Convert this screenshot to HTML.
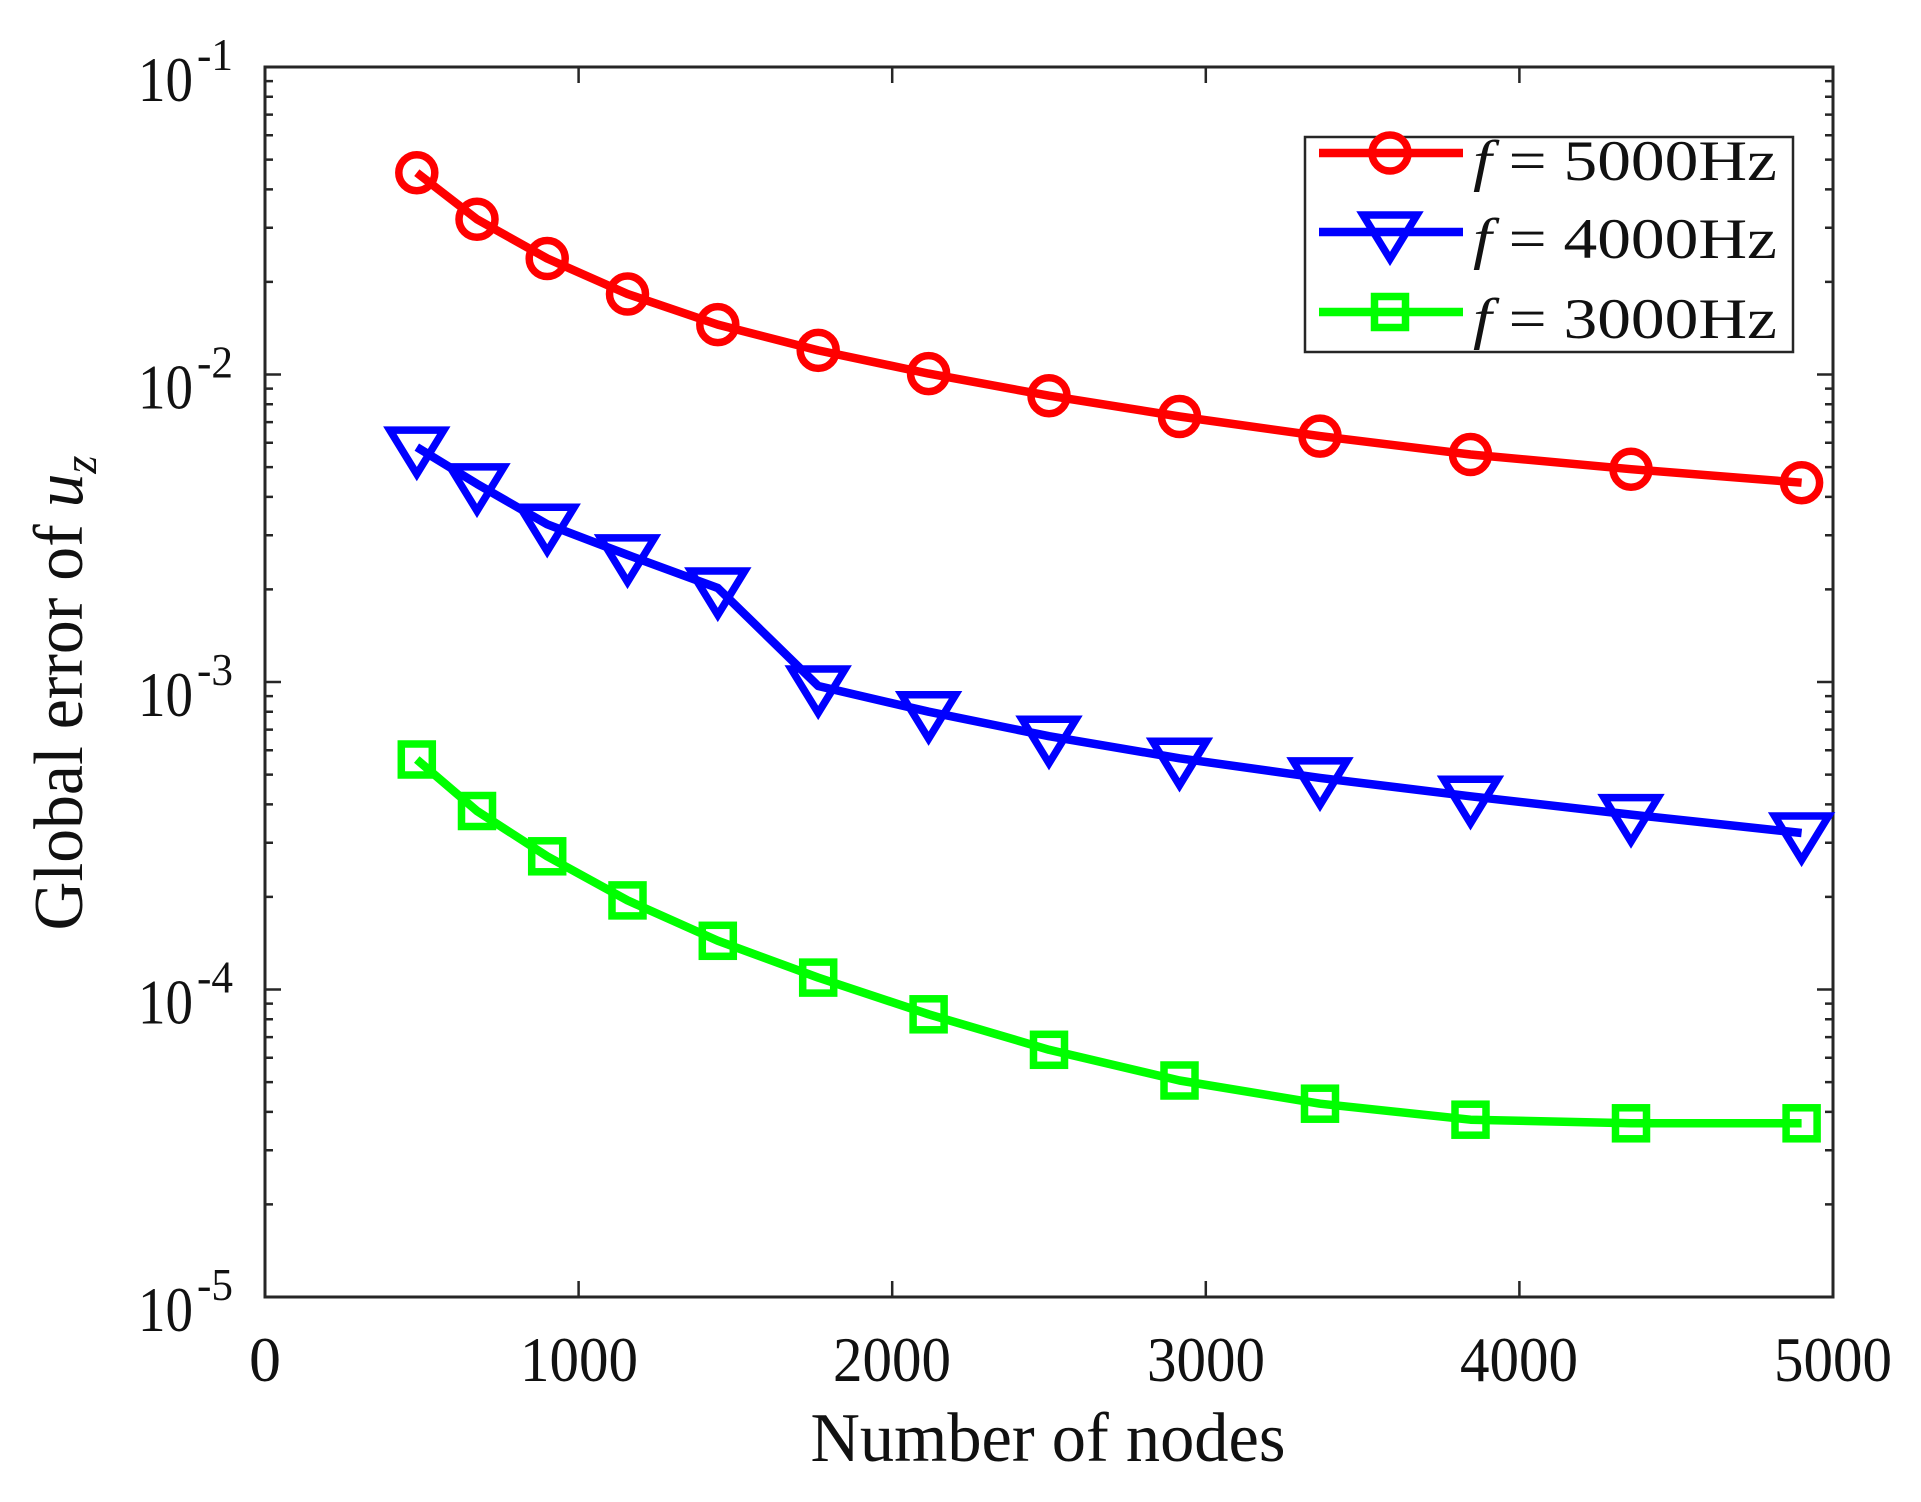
<!DOCTYPE html>
<html><head><meta charset="utf-8"><style>html,body{margin:0;padding:0;background:#fff}svg{display:block}</style></head>
<body>
<svg width="1921" height="1502" viewBox="0 0 1921 1502" xmlns="http://www.w3.org/2000/svg" font-family="'Liberation Serif', serif">
<defs>
<marker id="mc" markerUnits="userSpaceOnUse" markerWidth="60" markerHeight="60" refX="30" refY="30" overflow="visible"><circle cx="30" cy="30" r="18" fill="none" stroke="#ff0000" stroke-width="7.5"/></marker>
<marker id="mt" markerUnits="userSpaceOnUse" markerWidth="70" markerHeight="70" refX="35" refY="35" overflow="visible"><polygon points="8,18 62,18 35,62" fill="none" stroke="#0000ff" stroke-width="7.5"/></marker>
<marker id="ms" markerUnits="userSpaceOnUse" markerWidth="60" markerHeight="60" refX="30" refY="30" overflow="visible"><rect x="14.5" y="14.5" width="31" height="31" fill="none" stroke="#00ff00" stroke-width="7.5"/></marker>
</defs>
<rect width="1921" height="1502" fill="#fff"/>
<g stroke="#262626" stroke-width="2.5" fill="none">
<path d="M265 374.5h16M265 682h16M265 989.5h16M1833 374.5h-16M1833 682h-16M1833 989.5h-16
M578.6 1297v-16M892.2 1297v-16M1205.8 1297v-16M1519.4 1297v-16
M578.6 67v16M892.2 67v16M1205.8 67v16M1519.4 67v16"/>
<path d="M265 281.9h8M265 227.8h8M265 189.4h8M265 159.6h8M265 135.2h8M265 114.6h8M265 96.8h8M265 81.1h8
M265 589.4h8M265 535.3h8M265 496.9h8M265 467.1h8M265 442.7h8M265 422.1h8M265 404.3h8M265 388.6h8
M265 896.9h8M265 842.8h8M265 804.4h8M265 774.6h8M265 750.2h8M265 729.6h8M265 711.8h8M265 696.1h8
M265 1204.4h8M265 1150.3h8M265 1111.9h8M265 1082.1h8M265 1057.7h8M265 1037.1h8M265 1019.3h8M265 1003.6h8
M1833 281.9h-8M1833 227.8h-8M1833 189.4h-8M1833 159.6h-8M1833 135.2h-8M1833 114.6h-8M1833 96.8h-8M1833 81.1h-8
M1833 589.4h-8M1833 535.3h-8M1833 496.9h-8M1833 467.1h-8M1833 442.7h-8M1833 422.1h-8M1833 404.3h-8M1833 388.6h-8
M1833 896.9h-8M1833 842.8h-8M1833 804.4h-8M1833 774.6h-8M1833 750.2h-8M1833 729.6h-8M1833 711.8h-8M1833 696.1h-8
M1833 1204.4h-8M1833 1150.3h-8M1833 1111.9h-8M1833 1082.1h-8M1833 1057.7h-8M1833 1037.1h-8M1833 1019.3h-8M1833 1003.6h-8"/>
</g>
<rect x="265" y="67" width="1568" height="1230" fill="none" stroke="#262626" stroke-width="3"/>

<polyline fill="none" stroke="#00ff00" stroke-width="8.5" stroke-linejoin="round" marker-start="url(#ms)" marker-mid="url(#ms)" marker-end="url(#ms)"
points="416.8,759.5 477,811 547.2,856.3 627.5,900.4 717.8,940.8 818.2,977.6 928.6,1014.3 1049,1049.8 1179.5,1080.5 1320,1103.7 1470.5,1119.7 1631,1123.3 1801.6,1123.3"/>
<polyline fill="none" stroke="#0000ff" stroke-width="8.5" stroke-linejoin="round" marker-start="url(#mt)" marker-mid="url(#mt)" marker-end="url(#mt)"
points="416.8,447.1 477,483.9 547.2,524.3 627.5,554.9 717.8,588 818.2,686 928.6,711.7 1049,736.2 1179.5,758.3 1320,777.9 1470.5,796.3 1631,814.6 1801.6,833"/>
<polyline fill="none" stroke="#ff0000" stroke-width="8.5" stroke-linejoin="round" marker-start="url(#mc)" marker-mid="url(#mc)" marker-end="url(#mc)"
points="416.8,172.7 477,219.3 547.2,258.5 627.5,294 717.8,324.6 818.2,350.4 928.6,373.6 1049,395.7 1179.5,416.5 1320,436.1 1470.5,454.5 1631,469.2 1801.6,482.7"/>

<g fill="#111" font-size="64">
<text x="265" y="1381" text-anchor="middle">0</text>
<text x="579" y="1381" text-anchor="middle" textLength="118" lengthAdjust="spacingAndGlyphs">1000</text>
<text x="892" y="1381" text-anchor="middle" textLength="118" lengthAdjust="spacingAndGlyphs">2000</text>
<text x="1206" y="1381" text-anchor="middle" textLength="118" lengthAdjust="spacingAndGlyphs">3000</text>
<text x="1519" y="1381" text-anchor="middle" textLength="118" lengthAdjust="spacingAndGlyphs">4000</text>
<text x="1833" y="1381" text-anchor="middle" textLength="118" lengthAdjust="spacingAndGlyphs">5000</text>
</g>
<g fill="#111">
<text x="138" y="101" font-size="64" textLength="55" lengthAdjust="spacingAndGlyphs">10</text>
<text x="197" y="70" font-size="46" textLength="36" lengthAdjust="spacingAndGlyphs">-1</text>
<text x="138" y="408.5" font-size="64" textLength="55" lengthAdjust="spacingAndGlyphs">10</text>
<text x="197" y="377.5" font-size="46" textLength="36" lengthAdjust="spacingAndGlyphs">-2</text>
<text x="138" y="716" font-size="64" textLength="55" lengthAdjust="spacingAndGlyphs">10</text>
<text x="197" y="685" font-size="46" textLength="36" lengthAdjust="spacingAndGlyphs">-3</text>
<text x="138" y="1023.5" font-size="64" textLength="55" lengthAdjust="spacingAndGlyphs">10</text>
<text x="197" y="992.5" font-size="46" textLength="36" lengthAdjust="spacingAndGlyphs">-4</text>
<text x="138" y="1331" font-size="64" textLength="55" lengthAdjust="spacingAndGlyphs">10</text>
<text x="197" y="1300" font-size="46" textLength="36" lengthAdjust="spacingAndGlyphs">-5</text>
</g>
<text x="1048" y="1461" font-size="70" fill="#111" text-anchor="middle" textLength="475" lengthAdjust="spacingAndGlyphs">Number of nodes</text>
<g transform="translate(82,693) rotate(-90)" fill="#111">
<text x="0" y="0" font-size="70" text-anchor="middle" textLength="475" lengthAdjust="spacingAndGlyphs">Global error of <tspan font-style="italic">u</tspan><tspan font-style="italic" font-size="48" dy="14">z</tspan></text>
</g>
<rect x="1305" y="137" width="488" height="215" fill="#fff" stroke="#262626" stroke-width="2.5"/>
<g stroke-width="8.5">
<line x1="1319" y1="153" x2="1463" y2="153" stroke="#ff0000"/>
<circle cx="1390" cy="153" r="18" fill="none" stroke="#ff0000" stroke-width="7.5"/>
<line x1="1319" y1="232" x2="1463" y2="232" stroke="#0000ff"/>
<polygon points="1363,215 1417,215 1390,259" fill="none" stroke="#0000ff" stroke-width="7.5"/>
<line x1="1319" y1="312" x2="1463" y2="312" stroke="#00ff00"/>
<rect x="1374.5" y="296.5" width="31" height="31" fill="none" stroke="#00ff00" stroke-width="7.5"/>
</g>
<g fill="#111" font-size="57">
<text x="1473" y="180" textLength="304" lengthAdjust="spacingAndGlyphs"><tspan font-style="italic">f</tspan> = 5000Hz</text>
<text x="1473" y="258" textLength="304" lengthAdjust="spacingAndGlyphs"><tspan font-style="italic">f</tspan> = 4000Hz</text>
<text x="1473" y="338" textLength="304" lengthAdjust="spacingAndGlyphs"><tspan font-style="italic">f</tspan> = 3000Hz</text>
</g>
</svg>
</body></html>
